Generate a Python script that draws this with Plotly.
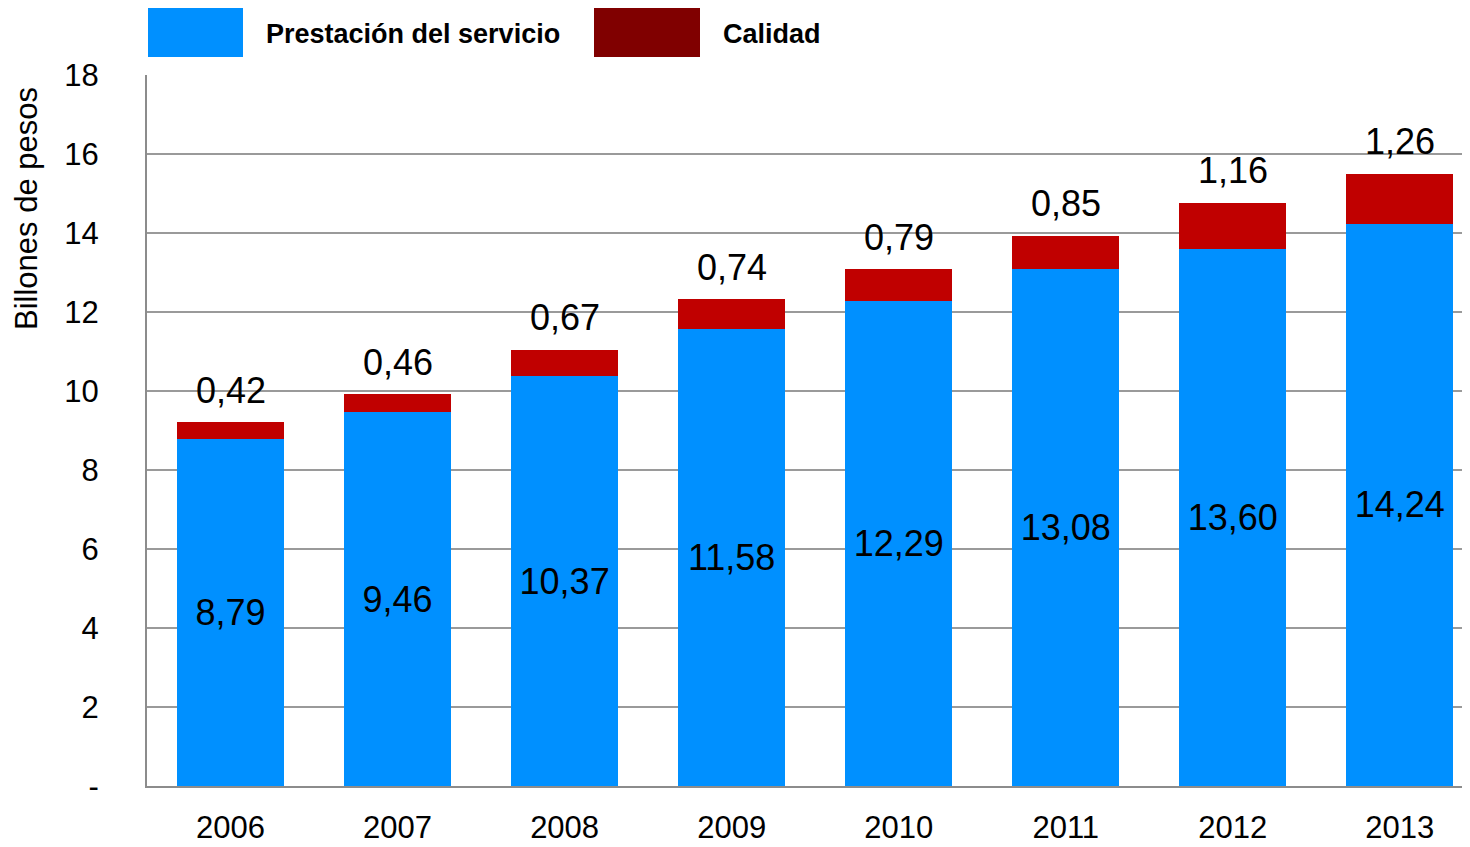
import plotly.graph_objects as go

years = ["2006", "2007", "2008", "2009", "2010", "2011", "2012", "2013"]
prestacion = [8.79, 9.46, 10.37, 11.58, 12.29, 13.08, 13.60, 14.24]
calidad = [0.42, 0.46, 0.67, 0.74, 0.79, 0.85, 1.16, 1.26]
ytick_vals = [0, 2, 4, 6, 8, 10, 12, 14, 16, 18]
ytick_text = ["-", "2", "4", "6", "8", "10", "12", "14", "16", "18"]

BLUE = "#0090FF"
RED = "#C00000"
DARKRED = "#800000"
FONT = "Liberation Sans, Arial, sans-serif"

def fmt(v):
    return f"{v:.2f}".replace(".", ",")

# page body has an 8px default margin; figure sized to fill the rest
OFF = 8
W, H = 1470 - OFF, 847 - OFF
L, R, T = 147 - OFF, 0, 75 - OFF
B = H - (786 - OFF)
pw, ph = W - L - R, H - T - B

def px(x):
    return (x - OFF - L) / pw

def py(y):
    return (H - B - (y - OFF)) / ph

fig = go.Figure()
fig.add_trace(go.Bar(
    x=years, y=prestacion, name="Prestación del servicio",
    marker=dict(color=BLUE, line=dict(width=0)),
    text=[fmt(v) for v in prestacion], textposition="inside",
    insidetextanchor="middle", textangle=0,
    textfont=dict(family=FONT, size=36, color="black"),
    showlegend=False,
))
fig.add_trace(go.Bar(
    x=years, y=calidad, name="Calidad",
    marker=dict(color=RED, line=dict(width=0)),
    showlegend=False,
))

for i, (p, c) in enumerate(zip(prestacion, calidad)):
    fig.add_annotation(x=i, y=p + c, xref="x", yref="y", text=fmt(c),
                       showarrow=False, yanchor="middle", yshift=32,
                       font=dict(family=FONT, size=36, color="black"))

# custom legend
fig.add_shape(type="rect", xref="paper", yref="paper",
              x0=px(148), x1=px(243), y0=py(57), y1=py(6),
              fillcolor=BLUE, line=dict(width=0))
fig.add_annotation(xref="paper", yref="paper", x=px(264), y=py(34),
                   xanchor="left", yanchor="middle", showarrow=False,
                   text="<b>Prestación del servicio</b>",
                   font=dict(family=FONT, size=27, color="black"))
fig.add_shape(type="rect", xref="paper", yref="paper",
              x0=px(594), x1=px(700), y0=py(57), y1=py(6),
              fillcolor=DARKRED, line=dict(width=0))
fig.add_annotation(xref="paper", yref="paper", x=px(721), y=py(34),
                   xanchor="left", yanchor="middle", showarrow=False,
                   text="<b>Calidad</b>",
                   font=dict(family=FONT, size=27, color="black"))

# y-axis title
fig.add_annotation(xref="paper", yref="paper", x=px(27), y=py(209),
                   xanchor="center", yanchor="middle", showarrow=False,
                   textangle=-90, text="Billones de pesos",
                   font=dict(family=FONT, size=31, color="black"))

fig.update_layout(
    width=W, height=H,
    margin=dict(l=L, r=R, t=T, b=B, pad=0, autoexpand=False),
    barmode="stack", bargap=0.36,
    plot_bgcolor="white", paper_bgcolor="white",
    font=dict(family=FONT, size=30, color="black"),
    showlegend=False,
)
fig.update_xaxes(type="category", range=[-0.5, 7.42], automargin=False,
                 showline=True, linecolor="#8c8c8c", linewidth=2,
                 showgrid=False, ticks="", ticklabelstandoff=13,
                 tickfont=dict(family=FONT, size=31, color="black"))
fig.update_yaxes(range=[0, 18], tickvals=ytick_vals, ticktext=ytick_text,
                 automargin=False,
                 showline=True, linecolor="#8c8c8c", linewidth=2,
                 showgrid=True, gridcolor="#9a9a9a", gridwidth=2,
                 zeroline=False, ticks="", ticklabelstandoff=40,
                 tickfont=dict(family=FONT, size=31, color="black"))

fig.write_html("out.html")
